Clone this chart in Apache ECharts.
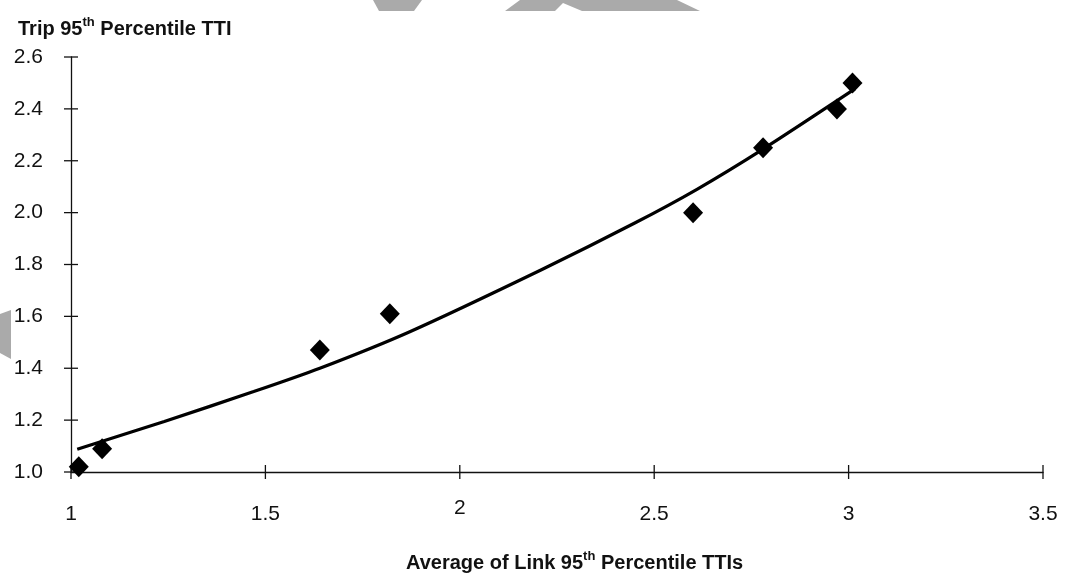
<!DOCTYPE html>
<html>
<head>
<meta charset="utf-8">
<script src="https://cdn.jsdelivr.net/npm/echarts@6/dist/echarts.min.js"></script>
<style>
  html, body { margin: 0; padding: 0; background: #fff; }
  #chart { width: 1077px; height: 574px; }
</style>
</head>
<body>
<div id="chart"></div>
<script>
// Observed trips: average link 95th percentile TTI vs trip 95th percentile TTI
const linkTTI = [1.02, 1.08, 1.64, 1.82, 2.60, 2.78, 2.97, 3.01];
const tripTTI = [1.02, 1.09, 1.47, 1.61, 2.00, 2.25, 2.40, 2.50];

// Fitted trend curve, sampled along its length
const trendX = [1.016, 1.24, 1.47, 1.64, 1.87, 2.21, 2.45, 2.61, 2.78, 3.016];
const trendY = [1.088, 1.195, 1.31, 1.40, 1.54, 1.78, 1.96, 2.09, 2.245, 2.477];

// Axis tick labels
const xTicks = ['1', '1.5', '2', '2.5', '3', '3.5'];
const yTicks = ['1.0', '1.2', '1.4', '1.6', '1.8', '2.0', '2.2', '2.4', '2.6'];

const FONT = "'Liberation Sans', Arial, sans-serif";
const INK = '#111';
const TICK_HALF = 7;

const chart = echarts.init(document.getElementById('chart'), null, { renderer: 'canvas' });

const titleRich = {
  b: { fontFamily: FONT, fontWeight: 'bold', fontSize: 20, color: INK, lineHeight: 24, padding: [8, 0, 0, 0] },
  s: { fontFamily: FONT, fontWeight: 'bold', fontSize: 13, color: INK, lineHeight: 14, padding: [0, 0, 6, 0] }
};

const points = linkTTI.map((x, i) => [x, tripTTI[i]]);
const xMin = Number(xTicks[0]);
const yMin = Number(yTicks[0]);

// tick marks that cross the axis line on both sides
function crossTick(horizontal) {
  return function (params, api) {
    const p = api.coord([api.value(0), api.value(1)]);
    const shape = horizontal
      ? { x1: p[0] - TICK_HALF, y1: p[1], x2: p[0] + TICK_HALF, y2: p[1] }
      : { x1: p[0], y1: p[1] - TICK_HALF, x2: p[0], y2: p[1] + TICK_HALF };
    return { type: 'line', shape: shape, style: { stroke: INK, lineWidth: 1.3 } };
  };
}

chart.setOption({
  animation: false,
  backgroundColor: '#fff',
  grid: { left: 71, right: 34, top: 57, bottom: 102, containLabel: false, outerBoundsMode: 'none' },
  title: [
    {
      text: '{b|Trip 95}{s|th}{b| Percentile TTI}',
      left: 13, top: 8,
      textStyle: { rich: titleRich }
    },
    {
      text: '{b|Average of Link 95}{s|th}{b| Percentile TTIs}',
      left: 401, top: 542,
      textStyle: { rich: titleRich }
    }
  ],
  xAxis: {
    type: 'value', min: 1, max: 3.5, interval: 0.5,
    splitLine: { show: false },
    axisLine: { show: true, onZero: false, lineStyle: { color: INK, width: 1.3 } },
    axisTick: { show: false },
    axisLabel: {
      show: true, margin: 26, showMinLabel: true, showMaxLabel: true,
      formatter: function (v) {
        const s = xTicks[Math.round((v - 1) / 0.5)];
        return s === '2' ? '{hi|' + s + '}' : '{n|' + s + '}';
      },
      rich: {
        n: { fontFamily: FONT, fontSize: 21, color: INK, padding: [6, 0, 0, 0] },
        hi: { fontFamily: FONT, fontSize: 21, color: INK, padding: [0, 0, 6, 0] }
      }
    }
  },
  yAxis: {
    type: 'value', min: 1, max: 2.6, interval: 0.2,
    splitLine: { show: false },
    axisLine: { show: true, onZero: false, lineStyle: { color: INK, width: 1.3 } },
    axisTick: { show: false },
    axisLabel: {
      show: true, margin: 28, showMinLabel: true, showMaxLabel: true,
      fontFamily: FONT, fontSize: 21, color: INK,
      formatter: function (v) { return yTicks[Math.round((v - 1) / 0.2)]; }
    }
  },
  graphic: [
    // grey background blocks along the top and left edges
    { type: 'polygon', z: -10, shape: { points: [[373, 0], [422, 0], [414, 11], [379, 11]] }, style: { fill: '#aaaaaa' } },
    { type: 'polygon', z: -10, shape: { points: [[520, 0], [677, 0], [700, 11], [582, 11], [563, 3], [555, 11], [505, 11]] }, style: { fill: '#aaaaaa' } },
    { type: 'polygon', z: -10, shape: { points: [[0, 314], [11, 310], [11, 359], [0, 353]] }, style: { fill: '#aaaaaa' } }
  ],
  series: [
    {
      name: 'X ticks',
      type: 'custom',
      clip: false,
      silent: true,
      data: xTicks.map(t => [Number(t), yMin]),
      renderItem: crossTick(false),
      z: 1
    },
    {
      name: 'Y ticks',
      type: 'custom',
      clip: false,
      silent: true,
      data: yTicks.map(t => [xMin, Number(t)]),
      renderItem: crossTick(true),
      z: 1
    },
    {
      name: 'Trend',
      type: 'line',
      data: trendX.map((x, i) => [x, trendY[i]]),
      smooth: 0.25,
      showSymbol: false,
      symbol: 'none',
      lineStyle: { color: '#000', width: 3.2, opacity: 1 },
      z: 2
    },
    {
      name: 'Trips',
      type: 'scatter',
      data: points,
      symbol: 'diamond',
      symbolSize: [20, 21],
      itemStyle: { color: '#000', opacity: 1 },
      emphasis: { disabled: true },
      z: 3
    }
  ]
});
</script>
</body>
</html>
